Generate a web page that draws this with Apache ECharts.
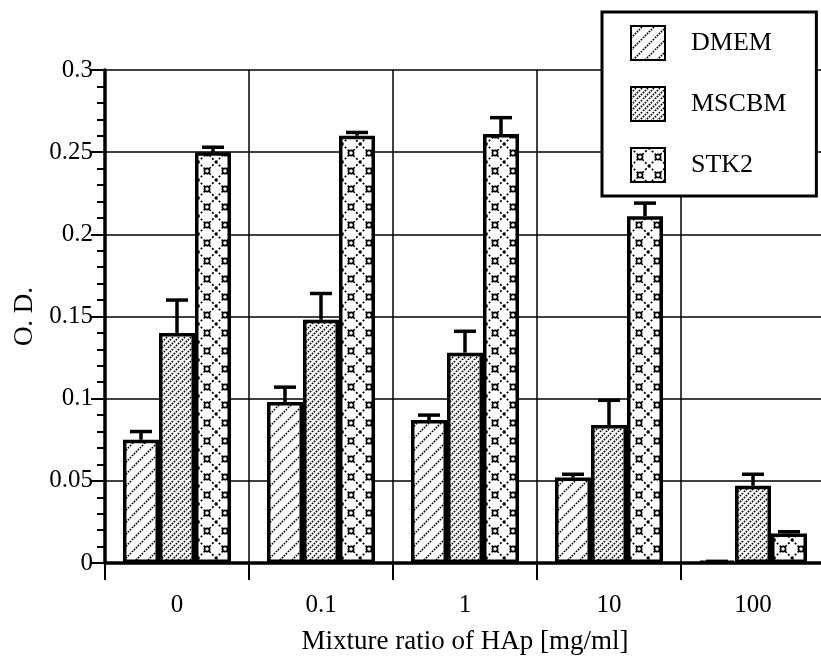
<!DOCTYPE html>
<html>
<head>
<meta charset="utf-8">
<script src="https://cdn.jsdelivr.net/npm/echarts@6/dist/echarts.min.js"></script>
<style>
	html, body { margin: 0; padding: 0; background: #fff; }
	#chart { width: 821px; height: 657px; }
</style>
</head>
<body>
<div id="chart"></div>
<script>
var categories = ['0', '0.1', '1', '10', '100'];
var seriesNames = ['DMEM', 'MSCBM', 'STK2'];
var dmem = [0.075, 0.098, 0.087, 0.052, 0.001];
var mscbm = [0.140, 0.148, 0.128, 0.084, 0.047];
var stk2 = [0.250, 0.260, 0.261, 0.211, 0.018];
// upper end of each error bar
var dmemErr = [0.080, 0.107, 0.090, 0.054, 0.001];
var mscbmErr = [0.160, 0.164, 0.141, 0.099, 0.054];
var stk2Err = [0.253, 0.262, 0.271, 0.219, 0.019];

var FONT = '"Liberation Serif", "DejaVu Serif", serif';

// hatch patterns
function hatch(size, spacing) {
	var c = document.createElement('canvas');
	c.width = size; c.height = size;
	var g = c.getContext('2d');
	g.fillStyle = '#fff';
	g.fillRect(0, 0, size, size);
	g.strokeStyle = '#000';
	g.lineWidth = 1.8;
	g.setLineDash([1.5, 1.3]);
	for (var o = -size; o <= size * 2; o += spacing) {
		g.beginPath();
		g.moveTo(o, size);
		g.lineTo(o + size, 0);
		g.stroke();
	}
	return c;
}
function crossDots(size) {
	var c = document.createElement('canvas');
	c.width = size; c.height = size;
	var g = c.getContext('2d');
	g.fillStyle = '#fff';
	g.fillRect(0, 0, size, size);
	g.strokeStyle = '#000';
	g.lineWidth = 1.7;
	g.setLineDash([2, 2]);
	g.beginPath(); g.moveTo(0, 0); g.lineTo(size, size); g.stroke();
	g.beginPath(); g.moveTo(0, size); g.lineTo(size, 0); g.stroke();
	g.setLineDash([]);
	g.lineWidth = 1.7;
	g.beginPath();
	g.arc(size / 2, size / 2, 2.6, 0, Math.PI * 2);
	g.fillStyle = '#fff';
	g.fill();
	g.stroke();
	return c;
}

var patterns = [
	{ image: hatch(12, 12), repeat: 'repeat' },
	{ image: hatch(12, 6), repeat: 'repeat' },
	{ image: crossDots(18), repeat: 'repeat' }
];

var values = [dmem, mscbm, stk2];
var errs = [dmemErr, mscbmErr, stk2Err];
var gapRatio = 0.25;

var chart = echarts.init(document.getElementById('chart'), null, { renderer: 'canvas' });

var series = [];
seriesNames.forEach(function (name, k) {
	series.push({
		name: name,
		type: 'bar',
		barGap: 0,
		barCategoryGap: '25%',
		itemStyle: {
			color: patterns[k],
			borderColor: '#000',
			borderWidth: 3.5
		},
		data: values[k],
		z: 3
	});
});
seriesNames.forEach(function (name, k) {
	series.push({
		name: name + ' err',
		type: 'custom',
		z: 4,
		renderItem: function (params, api) {
			var top = api.coord([api.value(0), api.value(1)]);
			var base = api.coord([api.value(0), api.value(2)]);
			var catW = api.size([1, 0])[0];
			var bw = catW * (1 - gapRatio) / 3;
			var x = top[0] + (k - 1) * bw;
			var style = { stroke: '#000', lineWidth: 3.5 };
			return {
				type: 'group',
				children: [
					{ type: 'line', shape: { x1: x, y1: base[1], x2: x, y2: top[1] }, style: style },
					{ type: 'line', shape: { x1: x - 11, y1: top[1], x2: x + 11, y2: top[1] }, style: style }
				]
			};
		},
		data: categories.map(function (c, i) {
			return [i, errs[k][i], values[k][i]];
		})
	});
});

var option = {
	backgroundColor: '#fff',
	animation: false,
	textStyle: { fontFamily: FONT, color: '#000' },
	grid: { left: 105, right: -4, top: 70, bottom: 94, containLabel: false, outerBoundsMode: 'none' },
	legend: {
		data: seriesNames,
		orient: 'vertical',
		left: 602,
		top: 12,
		itemWidth: 34,
		itemHeight: 34,
		itemGap: 25,
		padding: [13, 30, 13, 28],
		backgroundColor: '#fff',
		borderColor: '#000',
		borderWidth: 3,
		icon: 'rect',
		textStyle: { fontFamily: FONT, fontSize: 26, color: '#000', padding: [0, 0, 0, 21] }
	},
	xAxis: {
		type: 'category',
		data: categories,
		boundaryGap: true,
		name: 'Mixture ratio of HAp [mg/ml]',
		nameLocation: 'middle',
		nameGap: 65,
		nameTextStyle: { fontFamily: FONT, fontSize: 27, color: '#000' },
		axisLine: { lineStyle: { color: '#000', width: 3.5 } },
		axisTick: { show: true, length: 17, lineStyle: { color: '#000', width: 2 } },
		axisLabel: { fontFamily: FONT, fontSize: 25, color: '#000', margin: 30 },
		splitLine: { show: true, lineStyle: { color: '#000', width: 1.5 } }
	},
	yAxis: {
		type: 'value',
		min: 0,
		max: 0.3,
		interval: 0.05,
		name: 'O. D.',
		nameLocation: 'middle',
		nameRotate: 90,
		nameGap: 67,
		nameTextStyle: { fontFamily: FONT, fontSize: 27, color: '#000' },
		axisLine: { show: true, lineStyle: { color: '#000', width: 3.5 } },
		axisTick: { show: true, length: 14, lineStyle: { color: '#000', width: 2 } },
		minorTick: { show: true, splitNumber: 5, length: 8, lineStyle: { color: '#000', width: 2 } },
		axisLabel: {
			fontFamily: FONT, fontSize: 25, color: '#000', margin: 12,
			formatter: function (v) { return String(Math.round(v * 100) / 100); }
		},
		splitLine: { show: true, lineStyle: { color: '#000', width: 1.5 } }
	},
	series: series
};

chart.setOption(option);
</script>
</body>
</html>
